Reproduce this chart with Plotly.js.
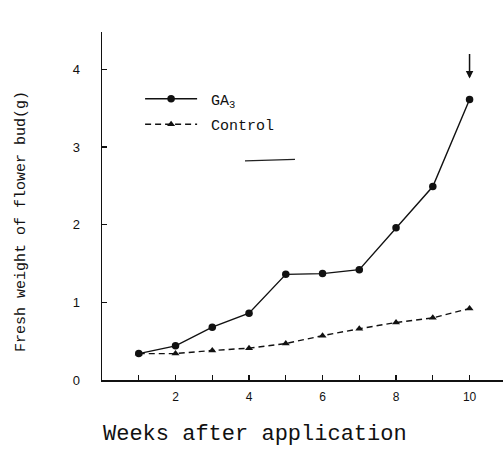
<!DOCTYPE html>
<html>
<head>
<meta charset="utf-8">
<script src="https://cdn.plot.ly/plotly-3.0.1.min.js"></script>
<style>html,body{margin:0;padding:0;background:#fff;}#chart{width:504px;height:451px;}</style>
</head>
<body>
<div id="chart"></div>
<script>
const weeks = [1, 2, 3, 4, 5, 6, 7, 8, 9, 10];
const ga3 = [0.34, 0.44, 0.68, 0.86, 1.36, 1.37, 1.42, 1.96, 2.49, 3.61];
const control = [0.34, 0.34, 0.38, 0.41, 0.47, 0.57, 0.66, 0.74, 0.80, 0.92];
const xTickVals = [1, 2, 3, 4, 5, 6, 7, 8, 9, 10];
const xTickText = ['', '2', '', '4', '', '6', '', '8', '', '10'];
const yTickVals = [0, 1, 2, 3, 4];
const yTickText = ['0', '1', '2', '3', '4'];
const seriesNames = ['GA<sub>3</sub>', 'Control'];
const xTitle = 'Weeks after application';
const yTitle = 'Fresh weight of flower bud(g)';

const mono = 'Liberation Mono, Courier New, monospace';
const traces = [
  {x: weeks, y: ga3, name: '&nbsp;' + seriesNames[0], legendgroup: 'a', type: 'scatter', mode: 'lines+markers',
   line: {color: '#111', width: 1.4}, marker: {symbol: 'circle', size: 7.5, color: '#111'}},
  {x: weeks, y: control, name: '&nbsp;' + seriesNames[1], legendgroup: 'b', type: 'scatter', mode: 'lines+markers',
   line: {color: '#111', width: 1.4, dash: '6px,4px'}, marker: {symbol: 'triangle-up', size: 7, color: '#111'}}
];
const layout = {
  width: 504, height: 451,
  margin: {l: 102, r: 1, t: 32, b: 71},
  paper_bgcolor: '#fff', plot_bgcolor: '#fff',
  showlegend: true,
  legend: {x: 0.095, y: 0.855, xanchor: 'left', yanchor: 'top', bgcolor: 'rgba(0,0,0,0)',
           font: {family: mono, size: 15, color: '#111'}, itemwidth: 52,
           traceorder: 'grouped', tracegroupgap: 3},
  xaxis: {range: [0, 10.91], tickmode: 'array', tickvals: xTickVals, ticktext: xTickText,
          ticks: 'inside', ticklen: 5, tickwidth: 1.2, tickcolor: '#111', ticklabelstandoff: 5,
          showline: true, linecolor: '#111', linewidth: 1.5, showgrid: false, zeroline: false,
          tickfont: {family: 'Liberation Sans, Arial, sans-serif', size: 12, color: '#111'}},
  yaxis: {range: [0, 4.48], tickmode: 'array', tickvals: yTickVals, ticktext: yTickText,
          ticks: 'inside', ticklen: 5, tickwidth: 1.2, tickcolor: '#111', ticklabelstandoff: 18,
          showline: true, linecolor: '#111', linewidth: 1.5, showgrid: false, zeroline: false,
          tickfont: {family: 'Liberation Sans, Arial, sans-serif', size: 13, color: '#111'}},
  annotations: [
    {xref: 'paper', yref: 'paper', x: (255 - 102) / 401, y: -(434 - 380) / 348, text: xTitle,
     showarrow: false, xanchor: 'center', yanchor: 'middle', font: {family: mono, size: 22, color: '#111'}},
    {xref: 'paper', yref: 'paper', x: -(102 - 22) / 401, y: (380 - 222) / 348, text: yTitle, textangle: -90,
     showarrow: false, xanchor: 'center', yanchor: 'middle', font: {family: mono, size: 15, color: '#111'}},
    {x: 10, y: 3.88, xref: 'x', yref: 'y', text: '', showarrow: true, arrowhead: 2, arrowsize: 1,
     arrowwidth: 1.5, arrowcolor: '#111', ax: 0, ay: -26}
  ],
  shapes: [
    {type: 'line', xref: 'x', yref: 'y', x0: 3.89, x1: 5.25, y0: 2.82, y1: 2.84, line: {color: '#222', width: 1.3}}
  ]
};
Plotly.newPlot('chart', traces, layout, {displayModeBar: false, staticPlot: true});
</script>
</body>
</html>
